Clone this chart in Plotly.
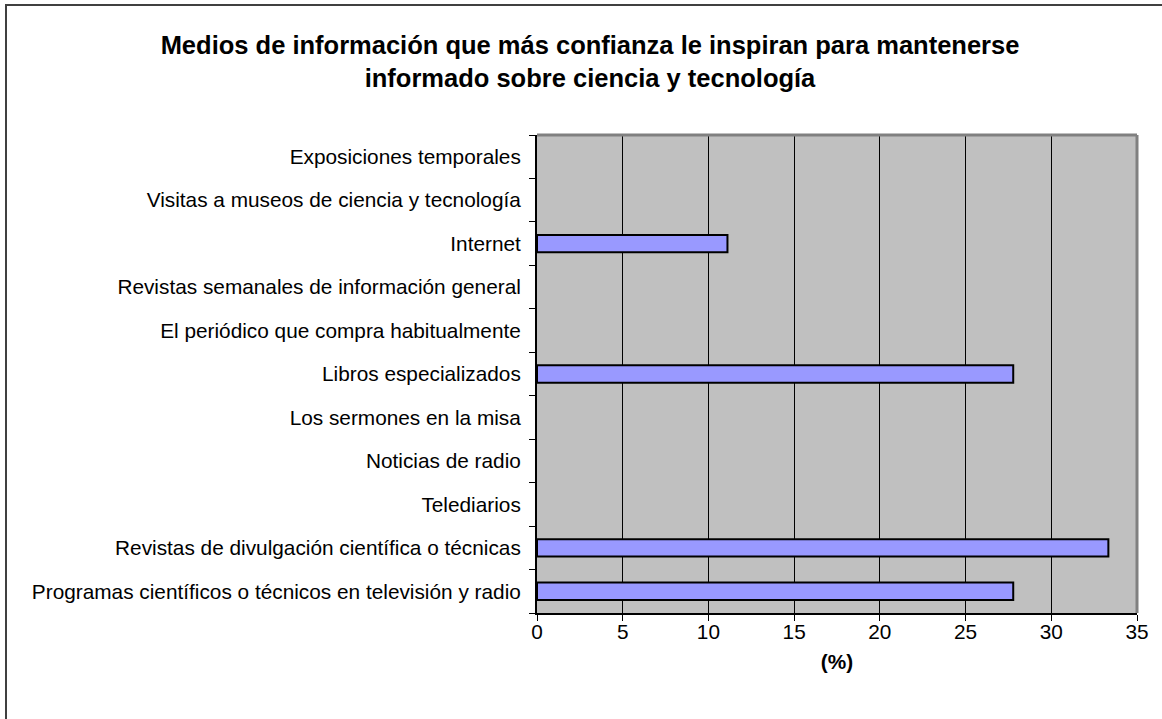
import plotly.graph_objects as go

# Survey categories (bottom to top) and share of respondents (%)
categories = [
    "Programas científicos o técnicos en televisión y radio",
    "Revistas de divulgación científica o técnicas",
    "Telediarios",
    "Noticias de radio",
    "Los sermones en la misa",
    "Libros especializados",
    "El periódico que compra habitualmente",
    "Revistas semanales de información general",
    "Internet",
    "Visitas a museos de ciencia y tecnología",
    "Exposiciones temporales",
]
values = [27.78, 33.33, 0, 0, 0, 27.78, 0, 0, 11.11, 0, 0]
x_ticks = [0, 5, 10, 15, 20, 25, 30, 35]

title_text = ("<b>Medios de información que más confianza le inspiran para mantenerse"
              "<br>informado sobre ciencia y tecnología</b>")

FONT = "Liberation Sans, Arial, sans-serif"

# outline only on bars that have length
outline_w = [2 if v > 0 else 0 for v in values]

fig = go.Figure(
    go.Bar(
        x=values,
        y=categories,
        orientation="h",
        width=0.4,
        marker=dict(color="#9999FF", line=dict(color="#000000", width=outline_w)),
        hoverinfo="x+y",
    )
)

W, H = 1162, 719
L, R, T, B = 537, 25, 135, 106
pw, ph = W - L - R, H - T - B

fig.update_layout(
    width=W,
    height=H,
    margin=dict(l=L, r=R, t=T, b=B),
    paper_bgcolor="#FFFFFF",
    plot_bgcolor="#C0C0C0",
    font=dict(family=FONT, size=20.8, color="#000000"),
    showlegend=False,
    title=dict(
        text=title_text,
        font=dict(family=FONT, size=25.5, color="#000000"),
        x=590 / W,
        xanchor="center",
        y=1 - 54 / H,
        yanchor="middle",
    ),
    bargap=0.6,
)

fig.update_xaxes(
    range=[0, 35],
    tickvals=x_ticks,
    ticktext=[str(v) for v in x_ticks],
    ticks="outside",
    ticklen=6,
    tickcolor="#000000",
    showline=True,
    linecolor="#000000",
    linewidth=2,
    showgrid=True,
    gridcolor="#000000",
    gridwidth=1,
    zeroline=False,
    tickfont=dict(size=20.8),
    ticklabelstandoff=-7,
    title=dict(text="<b>(%)</b>", font=dict(size=20.8), standoff=12),
    fixedrange=True,
)

fig.update_yaxes(
    type="category",
    categoryorder="array",
    categoryarray=categories,
    ticks="outside",
    tickson="boundaries",
    ticklen=6,
    tickcolor="#000000",
    showline=True,
    linecolor="#000000",
    linewidth=2,
    showgrid=False,
    tickfont=dict(size=20.8),
    ticklabelstandoff=10,
    fixedrange=True,
)

# Gray border on top and right of the plot area
fig.add_shape(type="line", xref="paper", yref="paper", x0=0, x1=1, y0=1, y1=1,
              line=dict(color="#808080", width=3))
fig.add_shape(type="line", xref="paper", yref="paper", x0=1, x1=1, y0=0, y1=1,
              line=dict(color="#808080", width=3))

# Outer chart frame
fig.add_shape(type="rect", xref="paper", yref="paper",
              x0=(6 - L) / pw, x1=(W + 5 - L) / pw,
              y0=-(H + 5 - (H - B)) / ph, y1=((H - B) - 5) / ph,
              line=dict(color="#404040", width=2), fillcolor="rgba(0,0,0,0)")

fig.write_html("out.html")
